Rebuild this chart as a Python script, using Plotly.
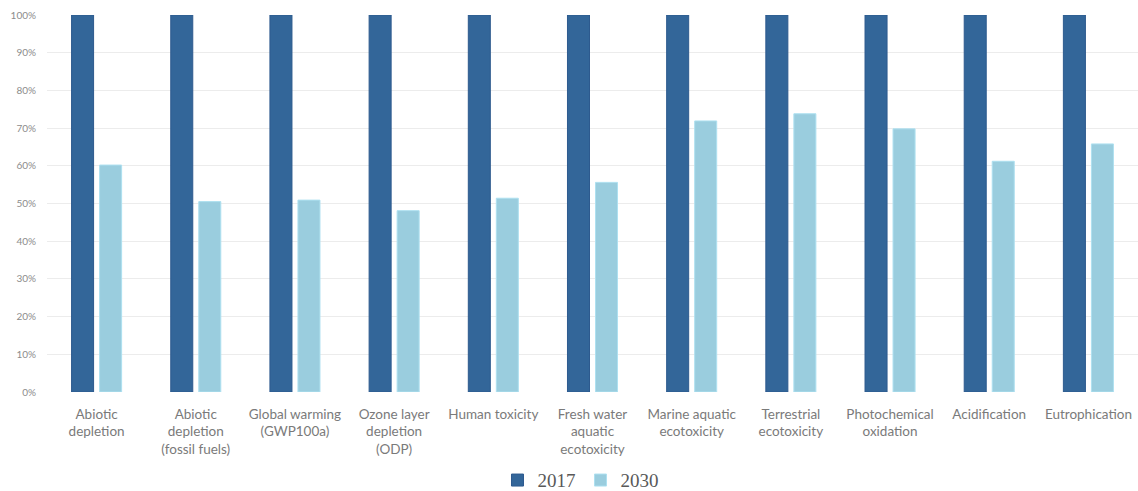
import plotly.graph_objects as go

categories = [
    "Abiotic<br>depletion",
    "Abiotic<br>depletion<br>(fossil fuels)",
    "Global warming<br>(GWP100a)",
    "Ozone layer<br>depletion<br>(ODP)",
    "Human toxicity",
    "Fresh water<br>aquatic<br>ecotoxicity",
    "Marine aquatic<br>ecotoxicity",
    "Terrestrial<br>ecotoxicity",
    "Photochemical<br>oxidation",
    "Acidification",
    "Eutrophication",
]
values_2017 = [1.0] * 11
values_2030 = [0.602, 0.505, 0.509, 0.481, 0.514, 0.556, 0.719, 0.738, 0.698, 0.612, 0.658]
tick_vals = [i / 10 for i in range(11)]

fig = go.Figure()
fig.add_trace(go.Bar(
    name="2017", x=categories, y=values_2017,
    marker=dict(color="#336699", line=dict(color="#2d5a8e", width=1)),
))
fig.add_trace(go.Bar(
    name="2030", x=categories, y=values_2030,
    marker=dict(color="#9acdde", line=dict(color="#aee0f0", width=1)),
))

fig.update_layout(
    width=1138, height=491,
    margin=dict(l=47, r=0, t=15, b=99, autoexpand=False),
    paper_bgcolor="white", plot_bgcolor="white",
    barmode="group", bargap=0.435, bargroupgap=0.214,
    font=dict(family="Lato, Open Sans, sans-serif", color="#7a7a7a"),
    showlegend=True,
    legend=dict(
        orientation="h", x=0.489, xanchor="center",
        yref="container", y=0.022, yanchor="middle",
        font=dict(family="Liberation Serif, Times New Roman, serif", size=19, color="#595959"),
        itemwidth=30, traceorder="normal",
    ),
    xaxis=dict(
        showgrid=False, showline=False, ticks="", automargin=False,
        tickfont=dict(size=13.5, color="#7a7a7a"),
        ticklabelstandoff=12,
    ),
    yaxis=dict(
        range=[0, 1.0], tickvals=tick_vals, tickformat=".0%", automargin=False,
        showgrid=True, gridcolor="#ececec", gridwidth=1,
        zeroline=False, showline=False, ticks="",
        tickfont=dict(size=10, color="#8c8c8c"),
        ticklabelstandoff=10,
    ),
)

fig.write_html(
    "out.html",
    config={"displayModeBar": False},
    post_script="document.body.style.margin='0';document.body.style.overflow='hidden';",
)
